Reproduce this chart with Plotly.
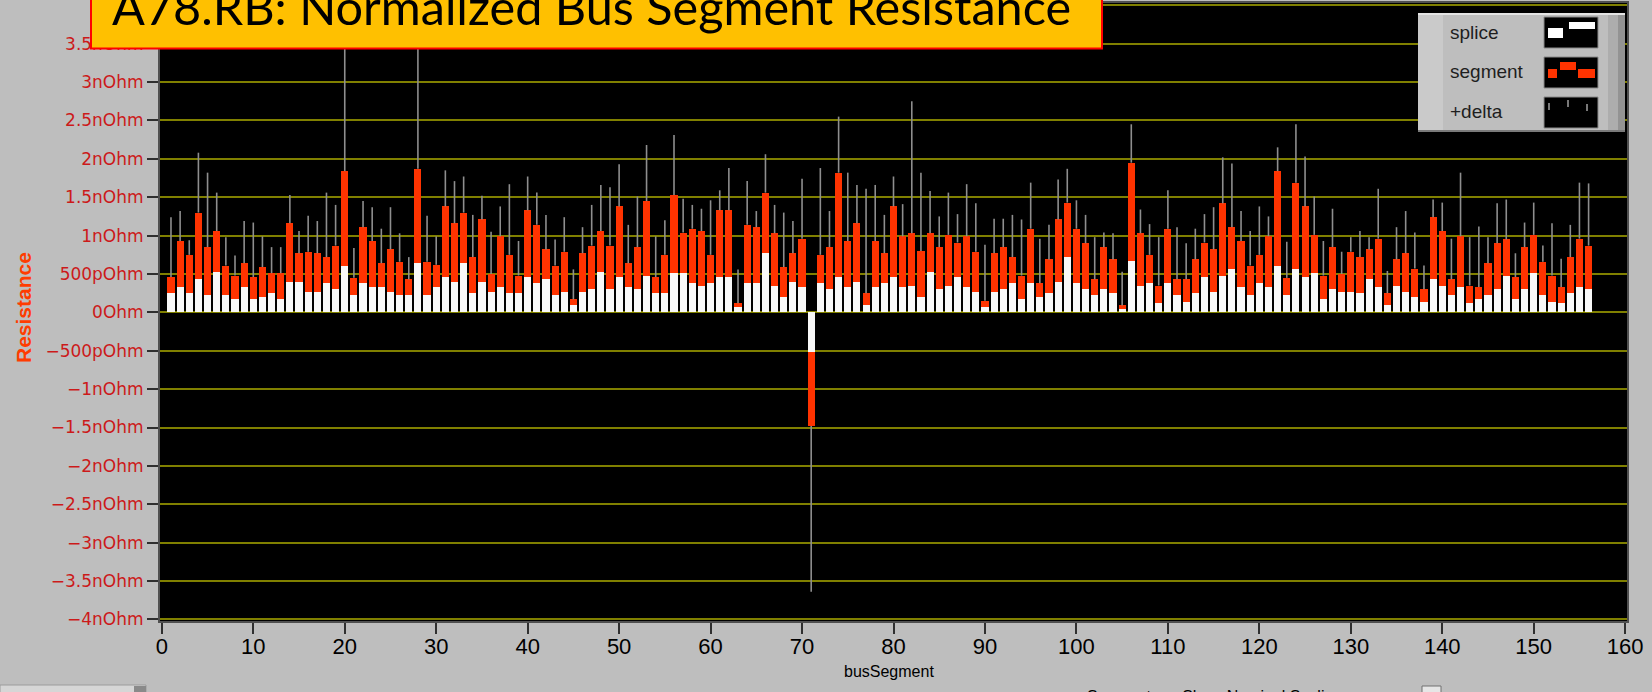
import plotly.graph_objects as go
import numpy as np

# ---------------- data (values in nOhm) ----------------
bus_segment = list(range(1, 157))

splice = [0.25,0.33,0.25,0.43,0.22,0.53,0.22,0.17,0.33,0.17,
          0.20,0.25,0.17,0.40,0.40,0.27,0.27,0.38,0.30,0.61,
          0.22,0.38,0.33,0.33,0.27,0.22,0.22,0.64,0.22,0.33,
          0.46,0.40,0.64,0.25,0.40,0.27,0.33,0.25,0.25,0.46,
          0.38,0.43,0.22,0.27,0.09,0.27,0.30,0.53,0.30,0.46,
          0.33,0.30,0.48,0.25,0.25,0.51,0.51,0.38,0.35,0.38,
          0.46,0.46,0.07,0.38,0.38,0.77,0.35,0.20,0.40,0.33,
          -0.51,0.38,0.30,0.46,0.33,0.40,0.09,0.33,0.38,0.46,
          0.33,0.35,0.20,0.53,0.30,0.35,0.46,0.33,0.27,0.07,
          0.27,0.30,0.38,0.17,0.38,0.20,0.25,0.40,0.72,0.38,
          0.30,0.22,0.30,0.25,0.04,0.67,0.35,0.38,0.12,0.38,
          0.22,0.14,0.25,0.46,0.27,0.48,0.56,0.33,0.22,0.38,
          0.33,0.61,0.22,0.56,0.46,0.51,0.17,0.30,0.27,0.27,
          0.25,0.43,0.33,0.09,0.35,0.27,0.20,0.14,0.43,0.35,
          0.22,0.33,0.12,0.17,0.22,0.30,0.48,0.17,0.30,0.51,
          0.22,0.14,0.12,0.25,0.33,0.30]

segment = [0.21,0.60,0.50,0.87,0.63,0.53,0.39,0.31,0.31,0.29,
           0.39,0.26,0.34,0.76,0.37,0.52,0.50,0.34,0.57,1.23,
           0.23,0.73,0.60,0.31,0.55,0.44,0.21,1.23,0.44,0.29,
           0.92,0.76,0.66,0.47,0.81,0.23,0.66,0.50,0.23,0.87,
           0.76,0.39,0.39,0.52,0.08,0.50,0.57,0.53,0.57,0.92,
           0.31,0.55,0.97,0.21,0.50,1.02,0.53,0.71,0.71,0.37,
           0.87,0.87,0.05,0.76,0.73,0.79,0.68,0.39,0.37,0.63,
           -0.97,0.37,0.55,1.36,0.60,0.76,0.16,0.60,0.39,0.92,
           0.66,0.68,0.60,0.50,0.55,0.66,0.45,0.66,0.52,0.08,
           0.50,0.55,0.34,0.31,0.71,0.18,0.44,0.81,0.71,0.71,
           0.60,0.21,0.55,0.44,0.05,1.28,0.68,0.37,0.23,0.71,
           0.21,0.29,0.44,0.45,0.55,0.94,0.55,0.60,0.39,0.37,
           0.66,1.23,0.23,1.13,0.92,0.50,0.31,0.55,0.23,0.52,
           0.47,0.39,0.63,0.16,0.34,0.50,0.37,0.16,0.81,0.71,
           0.21,0.66,0.23,0.16,0.42,0.60,0.47,0.29,0.55,0.50,
           0.44,0.34,0.21,0.47,0.63,0.57]

delta = [0.78,0.39,0.19,0.78,0.97,0.50,0.37,0.26,0.55,0.71,
         0.40,0.34,0.34,0.37,0.29,0.47,0.42,0.84,0.53,1.95,
         0.39,0.34,0.44,0.45,0.55,0.37,0.29,1.95,0.60,0.37,
         0.47,0.55,0.47,0.55,0.31,0.55,0.39,0.92,0.45,0.44,
         0.42,0.45,0.34,0.45,0.39,0.34,0.53,0.60,0.76,0.55,
         0.50,0.66,0.73,0.53,0.45,0.78,0.44,0.31,0.29,0.71,
         0.26,0.55,0.44,0.57,0.21,0.50,0.37,0.71,0.42,0.78,
         -2.16,1.13,0.47,0.73,0.89,0.50,1.36,0.73,0.50,0.39,
         0.42,1.72,1.02,0.55,0.40,0.55,0.37,0.68,0.63,0.73,
         0.45,0.37,0.55,0.73,0.60,0.58,0.45,0.52,0.44,0.37,
         0.37,0.55,0.19,0.34,0.44,0.50,0.31,0.40,0.63,0.50,
         0.68,0.47,0.40,0.37,0.55,0.60,0.83,0.39,0.45,0.63,
         0.26,0.31,0.47,0.76,0.65,0.50,0.45,0.50,0.29,0.19,
         0.34,0.16,0.65,0.29,0.42,0.55,0.47,0.31,0.23,0.37,
         0.53,0.83,0.63,0.79,0.34,0.52,0.52,0.31,0.32,0.42,
         0.21,0.68,0.37,0.42,0.73,0.81]

x_tickvals = list(range(0, 161, 10))
y_tickvals = [4, 3.5, 3, 2.5, 2, 1.5, 1, 0.5, 0, -0.5, -1, -1.5, -2, -2.5, -3, -3.5, -4]
y_ticktext = ["4nOhm", "3.5nOhm", "3nOhm", "2.5nOhm", "2nOhm", "1.5nOhm", "1nOhm",
              "500pOhm", "0Ohm", "\u2212500pOhm", "\u22121nOhm", "\u22121.5nOhm",
              "\u22122nOhm", "\u22122.5nOhm", "\u22123nOhm", "\u22123.5nOhm", "\u22124nOhm"]

title_text = "A78.RB: Normalized Bus Segment Resistance"
legend_names = ["splice", "segment", "+delta"]

# ---------------- layout geometry (pixels) ----------------
W, H = 1652, 692
ML, MR, MT, MB = 160, 25, 3, 71
PW, PH = W - ML - MR, H - MT - MB


def px(x):
    return (x - ML) / PW


def py(y):
    return (H - MB - y) / PH


# ---------------- traces ----------------
spl = np.array(splice)
seg = np.array(segment)
dl = np.array(delta)
top = spl + seg
end = top + dl
lx, ly = [], []
for xi, t, e in zip(bus_segment, top, end):
    lx += [xi, xi, None]
    ly += [float(t), float(e), None]

fig = go.Figure()
fig.add_trace(go.Bar(x=bus_segment, y=splice, width=0.78, name="splice",
                     marker=dict(color="#F8F8F8", line=dict(width=0)), showlegend=False))
fig.add_trace(go.Bar(x=bus_segment, y=segment, width=0.78, name="segment",
                     marker=dict(color="#FF3300", line=dict(width=0)), showlegend=False))
fig.add_trace(go.Scatter(x=lx, y=ly, mode="lines", name="+delta",
                         line=dict(color="#8E8E8E", width=1.6), showlegend=False,
                         hoverinfo="skip"))

shapes = []
ann = []

# title box
shapes.append(dict(type="rect", xref="paper", yref="paper", layer="above",
                   x0=px(91), x1=px(1102), y0=py(48.5), y1=py(-6),
                   fillcolor="#FFC000", line=dict(color="#FF0000", width=2)))
ann.append(dict(xref="paper", yref="paper", x=px(110), y=py(6.5), xanchor="left",
                yanchor="middle", showarrow=False, text=title_text,
                font=dict(family="Lato", size=48.6, color="#000000")))

# legend box
shapes += [
    dict(type="rect", xref="paper", yref="paper", layer="above",
         x0=px(1418), x1=px(1625), y0=py(132), y1=py(13),
         fillcolor="#BEBEBE", line=dict(width=0)),
    dict(type="rect", xref="paper", yref="paper", layer="above",
         x0=px(1418), x1=px(1443), y0=py(131), y1=py(14),
         fillcolor="#CACACA", line=dict(width=0)),
    dict(type="rect", xref="paper", yref="paper", layer="above",
         x0=px(1608), x1=px(1625), y0=py(131), y1=py(14),
         fillcolor="#ADADAD", line=dict(width=0)),
    dict(type="rect", xref="paper", yref="paper", layer="above",
         x0=px(1618), x1=px(1625), y0=py(131), y1=py(14),
         fillcolor="#939393", line=dict(width=0)),
    dict(type="line", xref="paper", yref="paper", layer="above",
         x0=px(1418), x1=px(1625), y0=py(14), y1=py(14),
         line=dict(color="#E4E4E4", width=2)),
    dict(type="line", xref="paper", yref="paper", layer="above",
         x0=px(1418), x1=px(1625), y0=py(131), y1=py(131),
         line=dict(color="#7A7A7A", width=2)),
]
sw_y = [(17, 48), (57, 88), (97, 128)]
for (a, b) in sw_y:
    shapes.append(dict(type="rect", xref="paper", yref="paper", layer="above",
                       x0=px(1544), x1=px(1598), y0=py(b), y1=py(a),
                       fillcolor="#000000", line=dict(color="#8A8A8A", width=1)))
# splice icon
for (x0, x1, y0, y1) in [(1548, 1563, 28, 38), (1569, 1595, 22, 29)]:
    shapes.append(dict(type="rect", xref="paper", yref="paper", layer="above",
                       x0=px(x0), x1=px(x1), y0=py(y1), y1=py(y0),
                       fillcolor="#FFFFFF", line=dict(width=0)))
# segment icon
for (x0, x1, y0, y1) in [(1548, 1557, 69, 78), (1560, 1576, 62, 70), (1578, 1595, 69, 78)]:
    shapes.append(dict(type="rect", xref="paper", yref="paper", layer="above",
                       x0=px(x0), x1=px(x1), y0=py(y1), y1=py(y0),
                       fillcolor="#FF3300", line=dict(width=0)))
# delta icon
for (x0, y0, y1) in [(1549, 103, 110), (1568, 100, 107), (1587, 104, 111)]:
    shapes.append(dict(type="line", xref="paper", yref="paper", layer="above",
                       x0=px(x0), x1=px(x0), y0=py(y1), y1=py(y0),
                       line=dict(color="#A0A0A0", width=1.5)))
for name, yc in zip(legend_names, [32, 72, 112]):
    ann.append(dict(xref="paper", yref="paper", x=px(1448), y=py(yc), xanchor="left",
                    yanchor="middle", showarrow=False, text=name,
                    font=dict(family="Liberation Sans", size=19, color="#1E1E1E")))

# axis titles
ann.append(dict(xref="paper", yref="paper", x=px(889), y=py(671), xanchor="center",
                yanchor="middle", showarrow=False, text="busSegment",
                font=dict(family="Liberation Sans", size=16, color="#000000")))
ann.append(dict(xref="paper", yref="paper", x=px(23), y=py(308), xanchor="center",
                yanchor="middle", showarrow=False, text="<b>Resistance</b>", textangle=-90,
                font=dict(family="Liberation Sans", size=21, color="#FF3C00")))

# bottom widgets (partly cut off, as in the reference)
shapes += [
    dict(type="rect", xref="paper", yref="paper", layer="above",
         x0=px(0), x1=px(146), y0=py(694), y1=py(685),
         fillcolor="#D6D6D6", line=dict(color="#9C9C9C", width=1)),
    dict(type="rect", xref="paper", yref="paper", layer="above",
         x0=px(134), x1=px(146), y0=py(694), y1=py(686),
         fillcolor="#8A8A8A", line=dict(width=0)),
    dict(type="rect", xref="paper", yref="paper", layer="above",
         x0=px(1422), x1=px(1441), y0=py(696), y1=py(686),
         fillcolor="#E6E6E6", line=dict(color="#707070", width=1)),
]
ann.append(dict(xref="paper", yref="paper", x=px(1085), y=py(686), xanchor="left",
                yanchor="top", showarrow=False, text="Segment       Show Nominal Scaling",
                font=dict(family="Liberation Sans", size=16, color="#000000")))

fig.update_layout(
    width=W, height=H,
    margin=dict(l=ML, r=MR, t=MT, b=MB, pad=0),
    paper_bgcolor="#BEBEBE", plot_bgcolor="#000000",
    barmode="stack", bargap=0,
    showlegend=False,
    shapes=shapes, annotations=ann,
    xaxis=dict(range=[-0.2, 160.2], tickvals=x_tickvals, ticks="outside", ticklen=11,
               tickwidth=2, tickcolor="#303030", showgrid=False, zeroline=False,
               showline=True, linecolor="#505050", linewidth=2, mirror=True,
               automargin=False, ticklabelstandoff=-6,
               tickfont=dict(family="Liberation Sans", size=22, color="#000000")),
    yaxis=dict(range=[-4.02, 4.03], tickvals=y_tickvals, ticktext=y_ticktext,
               ticks="outside", ticklen=11, tickwidth=2, tickcolor="#303030",
               showgrid=True, gridcolor="#808000", gridwidth=1.5, zeroline=False,
               showline=True, linecolor="#505050", linewidth=2, mirror=True,
               automargin=False,
               tickfont=dict(family="DejaVu Sans", size=17, color="#CC1A1A")),
)

fig.write_html("out.html", config={"displayModeBar": False},
               post_script="document.body.style.margin='0px';"
                           "document.body.style.overflow='hidden';")
